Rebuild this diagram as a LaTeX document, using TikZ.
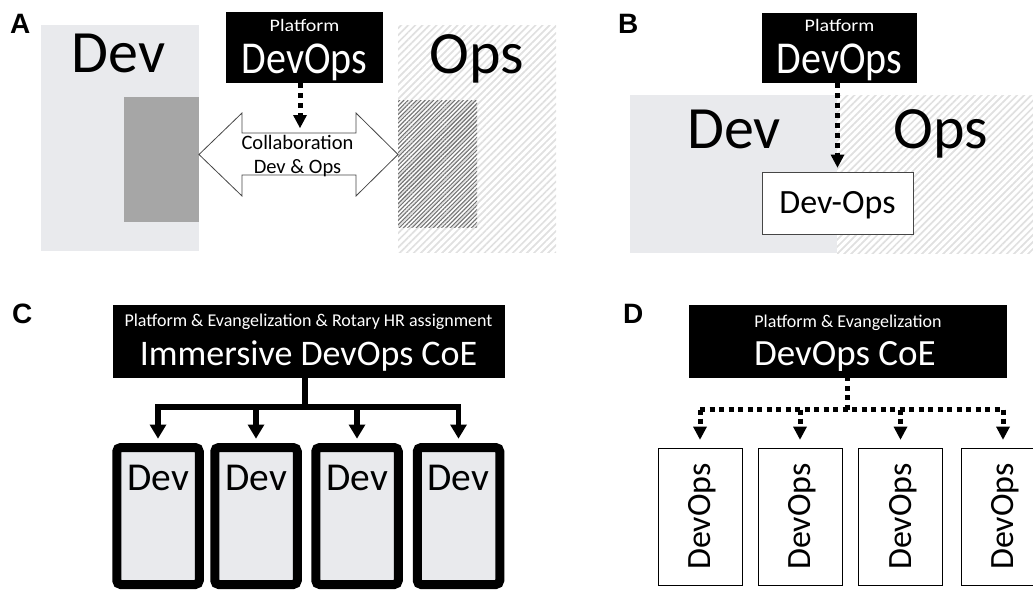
\documentclass[tikz,border=0pt]{standalone}
\usepackage{fontspec}
\setmainfont{Carlito}
\newfontfamily\lblfont{Liberation Sans}
\usetikzlibrary{arrows.meta,patterns.meta,calc}
\newcommand\fsz[1]{\fontsize{#1pt}{#1pt}\selectfont}
\definecolor{devgray}{RGB}{233,234,237}
\definecolor{midgray}{RGB}{166,166,166}
\definecolor{hatchlight}{RGB}{224,224,224}
\definecolor{hatchdark}{RGB}{115,115,115}
\definecolor{edgegray}{RGB}{70,70,70}
\begin{document}
\begin{tikzpicture}[x=1pt,y=-1pt,
  panel/.style={font=\lblfont\bfseries\fsz{28}, anchor=base west, inner sep=0pt},
  blackbox/.style={fill=black, draw=none, inner sep=0pt, anchor=north west},
  wtext/.style={text=white, anchor=base, inner sep=0pt},
  btext/.style={text=black, anchor=base, inner sep=0pt},
  lighthatch/.style={pattern={Lines[angle=45,distance=5pt,line width=1.7pt]}, pattern color=hatchlight},
  darkhatch/.style={pattern={Lines[angle=45,distance=3pt,line width=1.1pt]}, pattern color=hatchdark},
  dotarrow/.style={line width=5pt, dash pattern=on 5pt off 5pt, -{Triangle[width=14pt,length=13pt,line width=0pt]}},
  dotline/.style={line width=5pt, dash pattern=on 5pt off 4.5pt},
  solidarrow/.style={line width=5.5pt, -{Triangle[width=17pt,length=14pt,line width=0pt]}},
  cbox/.style={draw=black, line width=9pt, rounded corners=4pt, fill=devgray, minimum width=82.5pt, minimum height=137pt, inner sep=0pt},
  dbox/.style={draw=black, line width=0.8pt, fill=white, minimum width=84pt, minimum height=137pt, inner sep=0pt},
]
\useasboundingbox (0,0) rectangle (1033,589);
\clip (0,0) rectangle (1033,589);

% ---------------- Panel A ----------------
\node[panel] (labA) at (10,33) {A};
\fill[devgray] (41,25) rectangle (199,251);
\fill[midgray] (124,97) rectangle (199,222);
\fill[lighthatch] (398,25) rectangle (556,252);
\fill[darkhatch] (398,100) rectangle (477,227);
\node[btext, font=\fsz{60}] (devA) at (118.5,72) {Dev};
\node[btext, font=\fsz{60}] (opsA) at (477,73) {Ops};
\node[blackbox, minimum width=157pt, minimum height=71pt] (pa) at (226,12) {};
\node[wtext, font=\fsz{20}] (paT) at (304.5,31.5) {\scalebox{1}[0.88]{Platform}};
\node[wtext, font=\fsz{40}] (paD) at (304.5,73) {\scalebox{1}[1.14]{DevOps}};
\draw[draw=edgegray, fill=white, line width=0.8pt]
  (199,154.5) -- (242,113) -- (242,133) -- (356,133) -- (356,113) -- (398,154.5)
  -- (356,196) -- (356,175) -- (242,175) -- (242,196) -- cycle;
\node[btext, font=\fsz{20.5}] (colA) at (297.5,149.5) {Collaboration};
\node[btext, font=\fsz{20.5}] (colB) at (297.5,173.5) {Dev \& Ops};
\coordinate (ta) at (300,128);
\draw[dotarrow] (pa.south -| ta) -- (ta);

% ---------------- Panel B ----------------
\node[panel] (labB) at (618,33) {B};
\fill[devgray] (630,95) rectangle (837,253);
\fill[lighthatch] (837,95) rectangle (1033,253);
\node[btext, font=\fsz{60}] (devB) at (734,148) {Dev};
\node[btext, font=\fsz{60}] (opsB) at (940.5,148) {Ops};
\node[blackbox, minimum width=155pt, minimum height=70pt] (pb) at (762,13) {};
\node[wtext, font=\fsz{20}] (pbT) at (839.5,31.5) {\scalebox{1}[0.88]{Platform}};
\node[wtext, font=\fsz{40}] (pbD) at (839.5,73) {\scalebox{1}[1.14]{DevOps}};
\node[draw=edgegray, fill=white, line width=0.9pt, minimum width=151pt, minimum height=62pt,
  inner sep=0pt, text height=21.5pt, text depth=0pt, font=\fsz{34}] (devops) at (837.5,203) {Dev-Ops};
\draw[dotarrow, shorten >=4pt] (pb.south -| devops.north) -- (devops.north);

% ---------------- Panel C ----------------
\node[panel] (labC) at (12,323) {C};
\node[blackbox, minimum width=392pt, minimum height=73pt] (pc) at (113,305) {};
\node[wtext, font=\fsz{18}] (pcT) at (308.5,326) {Platform \& Evangelization \& Rotary HR assignment};
\node[wtext, font=\fsz{36}] (pcD) at (308.5,365) {Immersive DevOps CoE};
\node[cbox] (c1) at (158,516) {};
\node[cbox] (c2) at (256,516) {};
\node[cbox] (c3) at (357,516) {};
\node[cbox] (c4) at (458.5,516) {};
\foreach \n in {c1,c2,c3,c4}{
  \node[btext, font=\fsz{39.5}] at (\n.center |- 0,490) {Dev};
}
\coordinate (cj) at (305,407);
\draw[line width=5.5pt] (pc.south -| cj) -- (cj);
\foreach \n in {c1,c2,c3,c4}{
  \draw[solidarrow, shorten >=4.5pt] (cj) -- (\n.north |- cj) -- (\n.north);
}

% ---------------- Panel D ----------------
\node[panel] (labD) at (623,323) {D};
\node[blackbox, minimum width=318pt, minimum height=73pt] (pd) at (689,305) {};
\node[wtext, font=\fsz{18}] (pdT) at (848,327) {Platform \& Evangelization};
\node[wtext, font=\fsz{37}] (pdD) at (845,365) {DevOps CoE};
\node[dbox] (d1) at (700,516.5) {};
\node[dbox] (d2) at (800,516.5) {};
\node[dbox] (d3) at (900.5,516.5) {};
\node[dbox] (d4) at (1003,516.5) {};
\foreach \n in {d1,d2,d3,d4}{
  \node[rotate=90, anchor=base, inner sep=0pt, font=\fsz{34}] at ($(\n.center)+(10.7,0)$) {DevOps};
}
\coordinate (dj) at (847,409.5);
\draw[dotline, dash phase=2pt] (pd.south -| dj) -- (dj);
\draw[dotline] (d1.north |- dj) -- (d4.north |- dj);
\foreach \n in {d1,d2,d3,d4}{
  \draw[dotarrow, dash pattern=on 5pt off 4pt, shorten >=8pt] (\n.north |- dj) -- (\n.north);
}
\end{tikzpicture}
\end{document}
